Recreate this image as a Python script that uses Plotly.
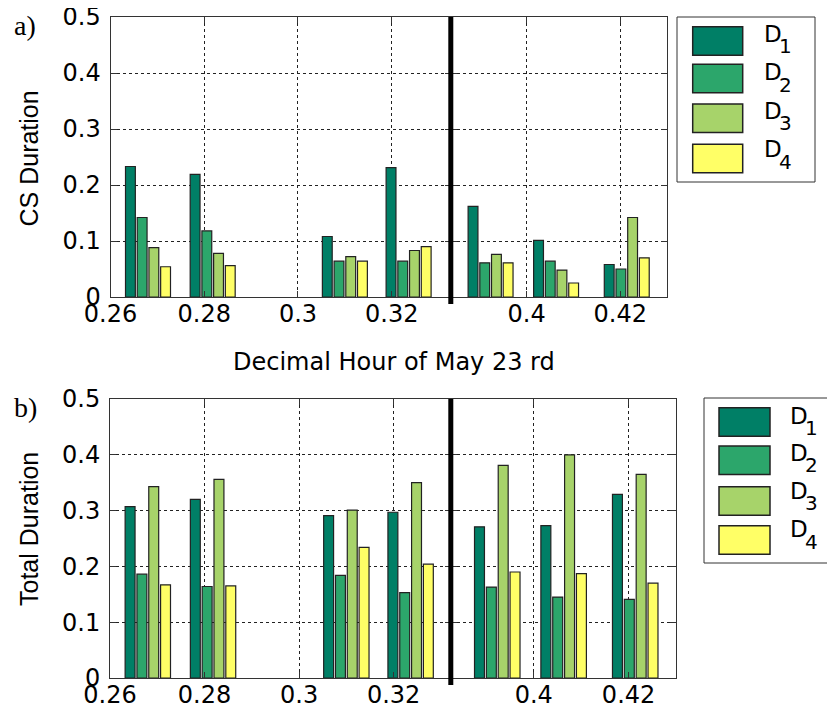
import plotly.graph_objects as go

# ---------------- data ----------------
hours = [0.268, 0.2818, 0.310, 0.3236, 0.3923, 0.4063, 0.4214]
series_names = ["D1", "D2", "D3", "D4"]
series_subs = ["1", "2", "3", "4"]

cs_d1 = [0.233, 0.219, 0.108, 0.231, 0.162, 0.101, 0.058]
cs_d2 = [0.142, 0.118, 0.064, 0.064, 0.061, 0.064, 0.050]
cs_d3 = [0.088, 0.078, 0.072, 0.083, 0.076, 0.048, 0.142]
cs_d4 = [0.054, 0.056, 0.064, 0.090, 0.061, 0.025, 0.070]

tot_d1 = [0.307, 0.320, 0.291, 0.297, 0.271, 0.273, 0.329]
tot_d2 = [0.186, 0.164, 0.184, 0.153, 0.163, 0.145, 0.141]
tot_d3 = [0.343, 0.356, 0.301, 0.350, 0.381, 0.400, 0.365]
tot_d4 = [0.167, 0.165, 0.234, 0.204, 0.190, 0.187, 0.170]

left_ticks = [0.26, 0.28, 0.30, 0.32]
left_ticktext = ["0.26", "0.28", "0.3", "0.32"]
right_ticks = [0.40, 0.42]
right_ticktext = ["0.4", "0.42"]
y_ticks = [0, 0.1, 0.2, 0.3, 0.4, 0.5]
y_ticktext = ["0", "0.1", "0.2", "0.3", "0.4", "0.5"]

x_label = "Decimal Hour of May 23 rd"
y_label_top = "CS Duration"
y_label_bottom = "Total Duration"
panel_labels = ["a)", "b)"]

# ---------------- style ----------------
colors = ["#007F66", "#2CA66B", "#A7D36A", "#FFFF66"]
PAGE_OFF = 8            # default page body margin
W, H = 835 - PAGE_OFF, 711 - PAGE_OFF
BREAK = 0.35
STEP = 0.0025
BW = 0.0021
SANS = "DejaVu Sans"


def X(px):
    return (px - PAGE_OFF) / W


def Y(py):
    return 1 - (py - PAGE_OFF) / H


fig = go.Figure()

panels = [
    dict(vals=[cs_d1, cs_d2, cs_d3, cs_d4], xl="x", yl="y", xr="x2", yr="y2"),
    dict(vals=[tot_d1, tot_d2, tot_d3, tot_d4], xl="x3", yl="y3", xr="x4", yr="y4"),
]

for p in panels:
    for k, vals in enumerate(p["vals"]):
        for side in ("l", "r"):
            xs = [h for h in hours if (h < BREAK) == (side == "l")]
            ys = [v for h, v in zip(hours, vals) if (h < BREAK) == (side == "l")]
            fig.add_trace(go.Bar(
                x=xs, y=ys, name=series_names[k], showlegend=False,
                width=BW, offset=(k - 2) * STEP + (STEP - BW) / 2,
                marker=dict(color=colors[k], line=dict(color="#222222", width=1.2)),
                xaxis=p["x" + side], yaxis=p["y" + side],
            ))

grid = dict(showgrid=True, gridcolor="#222222", griddash="3px,3px", gridwidth=1,
            zeroline=False, showline=True, linecolor="#333333", linewidth=1,
            mirror="ticks", ticks="inside", ticklen=6, tickcolor="#333333",
            automargin=False, ticklabeloverflow="allow",
            tickfont=dict(family=SANS, size=24, color="black"))

# geometry (page pixels)
top = dict(l=110.5, b=450.8, r=667, yt=17, yb=297, rl=[0.26, 0.3326], rr=[0.3838, 0.43])
bot = dict(l=110.0, b=450.8, r=676, yt=399, yb=678, rl=[0.26, 0.3321], rr=[0.3825, 0.43])

layout_axes = {}
for g, (xa, ya, xb, yb) in zip((top, bot), (("xaxis", "yaxis", "xaxis2", "yaxis2"),
                                            ("xaxis3", "yaxis3", "xaxis4", "yaxis4"))):
    ydom = [Y(g["yb"]), Y(g["yt"])]
    xid_l = xa.replace("axis", "")
    xid_r = xb.replace("axis", "")
    yid_l = ya.replace("axis", "")
    yid_r = yb.replace("axis", "")
    layout_axes[xa] = dict(grid, domain=[X(g["l"]), X(g["b"])], range=g["rl"],
                           tickvals=left_ticks, ticktext=left_ticktext,
                           anchor=yid_l, ticklabelstandoff=-5)
    layout_axes[xb] = dict(grid, domain=[X(g["b"]), X(g["r"])], range=g["rr"],
                           tickvals=right_ticks, ticktext=right_ticktext,
                           anchor=yid_r, ticklabelstandoff=-5)
    layout_axes[ya] = dict(grid, domain=ydom, range=[0, 0.5], tickvals=y_ticks,
                           ticktext=y_ticktext, anchor=xid_l, ticklabelstandoff=4)
    layout_axes[yb] = dict(grid, domain=ydom, range=[0, 0.5], tickvals=y_ticks,
                           showticklabels=False, anchor=xid_r)

shapes = []
annotations = []

# thick break lines
for g, ext in ((top, 7), (bot, 7)):
    shapes.append(dict(type="line", xref="paper", yref="paper",
                       x0=X(g["b"]), x1=X(g["b"]), y0=Y(g["yt"]), y1=Y(g["yb"] + ext),
                       line=dict(color="black", width=5)))

# legends (manual)
legends = [
    dict(box=(677, 17, 815, 182), sx=(692.7, 742.7), stops=[26.7, 64.3, 104, 144.3],
         lx=762, dys=[34, 72.3, 110.7, 149]),
    dict(box=(704, 398, 834, 563), sx=(719, 770), stops=[407.7, 446, 486.7, 525.7],
         lx=788, dys=[415.5, 452.5, 490.7, 529]),
]
for lg in legends:
    x0, y0, x1, y1 = lg["box"]
    shapes.append(dict(type="rect", xref="paper", yref="paper", x0=X(x0), x1=X(x1),
                       y0=Y(y1), y1=Y(y0), line=dict(color="#333333", width=1),
                       fillcolor="white", layer="above"))
    for k in range(4):
        st = lg["stops"][k]
        shapes.append(dict(type="rect", xref="paper", yref="paper",
                           x0=X(lg["sx"][0]), x1=X(lg["sx"][1]), y0=Y(st + 28.5), y1=Y(st),
                           fillcolor=colors[k], line=dict(color="#222222", width=1.5),
                           layer="above"))
        annotations.append(dict(text="D", xref="paper", yref="paper", x=X(lg["lx"]),
                                y=Y(lg["dys"][k]), xanchor="left", yanchor="middle",
                                showarrow=False, font=dict(family=SANS, size=23, color="black")))
        annotations.append(dict(text=series_subs[k], xref="paper", yref="paper",
                                x=X(lg["lx"] + 15), y=Y(lg["dys"][k] + 12.5), xanchor="left",
                                yanchor="middle", showarrow=False,
                                font=dict(family=SANS, size=20, color="black")))

# axis titles and panel labels
annotations.append(dict(text=x_label, xref="paper", yref="paper", x=X(394), y=Y(362),
                        xanchor="center", yanchor="middle", showarrow=False,
                        font=dict(family=SANS, size=24, color="black")))
annotations.append(dict(text=y_label_top, xref="paper", yref="paper", x=X(29), y=Y(158.5),
                        xanchor="center", yanchor="middle", textangle=-90, showarrow=False,
                        font=dict(family="Liberation Sans", size=25, color="black")))
annotations.append(dict(text=y_label_bottom, xref="paper", yref="paper", x=X(29), y=Y(529),
                        xanchor="center", yanchor="middle", textangle=-90, showarrow=False,
                        font=dict(family="Liberation Sans", size=25, color="black")))
annotations.append(dict(text=panel_labels[0], xref="paper", yref="paper", x=X(25), y=Y(26),
                        xanchor="center", yanchor="middle", showarrow=False,
                        font=dict(family="Liberation Serif", size=28, color="black")))
annotations.append(dict(text=panel_labels[1], xref="paper", yref="paper", x=X(25), y=Y(407),
                        xanchor="center", yanchor="middle", showarrow=False,
                        font=dict(family="Liberation Serif", size=28, color="black")))

fig.update_layout(
    template="none",
    width=W, height=H, margin=dict(l=0, r=0, t=0, b=0, pad=0, autoexpand=False),
    paper_bgcolor="white", plot_bgcolor="white",
    barmode="overlay", showlegend=False,
    shapes=shapes, annotations=annotations,
    **layout_axes,
)

fig.write_html("out.html")
